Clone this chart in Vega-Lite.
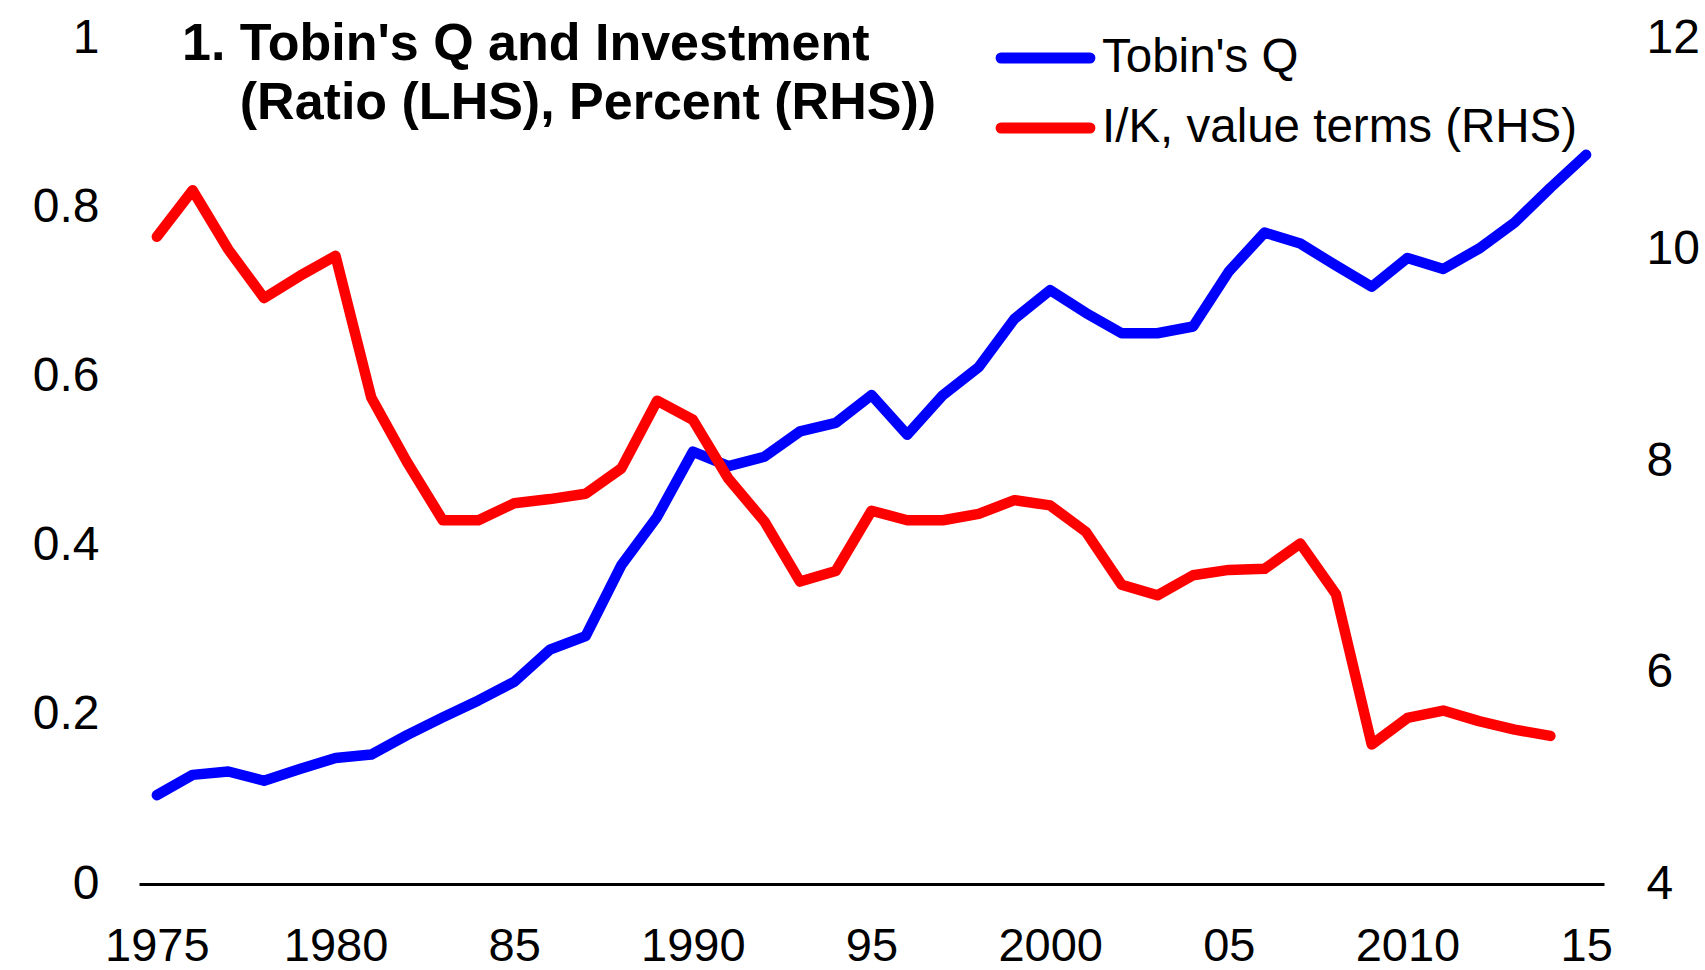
{
  "$schema": "https://vega.github.io/schema/vega-lite/v6.json",
  "width": 1465,
  "height": 846,
  "autosize": {"type": "none"},
  "padding": {"left": 139, "top": 38, "right": 101, "bottom": 86},
  "background": "white",
  "config": {"view": {"stroke": null}, "font": "Liberation Sans"},
  "title": {
    "text": ["1. Tobin's Q and Investment", "\u200b\u00a0\u00a0\u00a0\u00a0(Ratio (LHS), Percent (RHS))"],
    "anchor": "start",
    "frame": "group",
    "font": "Liberation Sans",
    "fontSize": 52,
    "fontWeight": "bold",
    "color": "black",
    "lineHeight": 59,
    "baseline": "alphabetic",
    "offset": 0,
    "dx": 43,
    "dy": 157
  },
  "data": {
    "values": [
      {"year": 1975, "series": "Tobin's Q", "value": 0.105},
      {"year": 1976, "series": "Tobin's Q", "value": 0.129},
      {"year": 1977, "series": "Tobin's Q", "value": 0.133},
      {"year": 1978, "series": "Tobin's Q", "value": 0.122},
      {"year": 1979, "series": "Tobin's Q", "value": 0.136},
      {"year": 1980, "series": "Tobin's Q", "value": 0.149},
      {"year": 1981, "series": "Tobin's Q", "value": 0.153},
      {"year": 1982, "series": "Tobin's Q", "value": 0.176},
      {"year": 1983, "series": "Tobin's Q", "value": 0.197},
      {"year": 1984, "series": "Tobin's Q", "value": 0.217},
      {"year": 1985, "series": "Tobin's Q", "value": 0.239},
      {"year": 1986, "series": "Tobin's Q", "value": 0.277},
      {"year": 1987, "series": "Tobin's Q", "value": 0.293},
      {"year": 1988, "series": "Tobin's Q", "value": 0.377},
      {"year": 1989, "series": "Tobin's Q", "value": 0.434},
      {"year": 1990, "series": "Tobin's Q", "value": 0.511},
      {"year": 1991, "series": "Tobin's Q", "value": 0.494},
      {"year": 1992, "series": "Tobin's Q", "value": 0.505},
      {"year": 1993, "series": "Tobin's Q", "value": 0.535},
      {"year": 1994, "series": "Tobin's Q", "value": 0.545},
      {"year": 1995, "series": "Tobin's Q", "value": 0.578},
      {"year": 1996, "series": "Tobin's Q", "value": 0.531},
      {"year": 1997, "series": "Tobin's Q", "value": 0.578},
      {"year": 1998, "series": "Tobin's Q", "value": 0.611},
      {"year": 1999, "series": "Tobin's Q", "value": 0.668},
      {"year": 2000, "series": "Tobin's Q", "value": 0.702},
      {"year": 2001, "series": "Tobin's Q", "value": 0.675},
      {"year": 2002, "series": "Tobin's Q", "value": 0.651},
      {"year": 2003, "series": "Tobin's Q", "value": 0.651},
      {"year": 2004, "series": "Tobin's Q", "value": 0.659},
      {"year": 2005, "series": "Tobin's Q", "value": 0.724},
      {"year": 2006, "series": "Tobin's Q", "value": 0.770},
      {"year": 2007, "series": "Tobin's Q", "value": 0.757},
      {"year": 2008, "series": "Tobin's Q", "value": 0.731},
      {"year": 2009, "series": "Tobin's Q", "value": 0.706},
      {"year": 2010, "series": "Tobin's Q", "value": 0.740},
      {"year": 2011, "series": "Tobin's Q", "value": 0.727},
      {"year": 2012, "series": "Tobin's Q", "value": 0.751},
      {"year": 2013, "series": "Tobin's Q", "value": 0.782},
      {"year": 2014, "series": "Tobin's Q", "value": 0.823},
      {"year": 2015, "series": "Tobin's Q", "value": 0.862},
      {"year": 1975, "series": "I/K, value terms (RHS)", "value": 10.12},
      {"year": 1976, "series": "I/K, value terms (RHS)", "value": 10.56},
      {"year": 1977, "series": "I/K, value terms (RHS)", "value": 10.0},
      {"year": 1978, "series": "I/K, value terms (RHS)", "value": 9.54},
      {"year": 1979, "series": "I/K, value terms (RHS)", "value": 9.75},
      {"year": 1980, "series": "I/K, value terms (RHS)", "value": 9.94},
      {"year": 1981, "series": "I/K, value terms (RHS)", "value": 8.6},
      {"year": 1982, "series": "I/K, value terms (RHS)", "value": 7.99},
      {"year": 1983, "series": "I/K, value terms (RHS)", "value": 7.44},
      {"year": 1984, "series": "I/K, value terms (RHS)", "value": 7.44},
      {"year": 1985, "series": "I/K, value terms (RHS)", "value": 7.6},
      {"year": 1986, "series": "I/K, value terms (RHS)", "value": 7.64},
      {"year": 1987, "series": "I/K, value terms (RHS)", "value": 7.69},
      {"year": 1988, "series": "I/K, value terms (RHS)", "value": 7.93},
      {"year": 1989, "series": "I/K, value terms (RHS)", "value": 8.57},
      {"year": 1990, "series": "I/K, value terms (RHS)", "value": 8.39},
      {"year": 1991, "series": "I/K, value terms (RHS)", "value": 7.83},
      {"year": 1992, "series": "I/K, value terms (RHS)", "value": 7.43},
      {"year": 1993, "series": "I/K, value terms (RHS)", "value": 6.86},
      {"year": 1994, "series": "I/K, value terms (RHS)", "value": 6.96},
      {"year": 1995, "series": "I/K, value terms (RHS)", "value": 7.53},
      {"year": 1996, "series": "I/K, value terms (RHS)", "value": 7.44},
      {"year": 1997, "series": "I/K, value terms (RHS)", "value": 7.44},
      {"year": 1998, "series": "I/K, value terms (RHS)", "value": 7.5},
      {"year": 1999, "series": "I/K, value terms (RHS)", "value": 7.63},
      {"year": 2000, "series": "I/K, value terms (RHS)", "value": 7.58},
      {"year": 2001, "series": "I/K, value terms (RHS)", "value": 7.33},
      {"year": 2002, "series": "I/K, value terms (RHS)", "value": 6.83},
      {"year": 2003, "series": "I/K, value terms (RHS)", "value": 6.73},
      {"year": 2004, "series": "I/K, value terms (RHS)", "value": 6.92},
      {"year": 2005, "series": "I/K, value terms (RHS)", "value": 6.97},
      {"year": 2006, "series": "I/K, value terms (RHS)", "value": 6.98},
      {"year": 2007, "series": "I/K, value terms (RHS)", "value": 7.22},
      {"year": 2008, "series": "I/K, value terms (RHS)", "value": 6.74},
      {"year": 2009, "series": "I/K, value terms (RHS)", "value": 5.32},
      {"year": 2010, "series": "I/K, value terms (RHS)", "value": 5.57},
      {"year": 2011, "series": "I/K, value terms (RHS)", "value": 5.64},
      {"year": 2012, "series": "I/K, value terms (RHS)", "value": 5.54},
      {"year": 2013, "series": "I/K, value terms (RHS)", "value": 5.46},
      {"year": 2014, "series": "I/K, value terms (RHS)", "value": 5.4}
    ]
  },
  "layer": [
    {
      "transform": [{"filter": "datum.series !== 'I/K, value terms (RHS)'"}],
      "mark": {"type": "line", "strokeWidth": 10.5, "strokeCap": "round", "strokeJoin": "round"},
      "encoding": {
        "x": {
          "field": "year", "type": "quantitative",
          "scale": {"domain": [1974.5, 2015.5], "nice": false, "zero": false},
          "axis": {
            "values": [1975, 1980, 1985, 1990, 1995, 2000, 2005, 2010, 2015],
            "labelExpr": "(datum.value % 10 === 5 && datum.value !== 1975) ? substring(toString(datum.value), 2, 4) : toString(datum.value)",
            "title": null, "grid": false, "ticks": false,
            "domain": true, "domainColor": "black", "domainWidth": 3,
            "labelFont": "Liberation Sans", "labelFontSize": 47, "labelColor": "black",
            "labelPadding": 39, "labelFlush": false, "labelOverlap": false
          }
        },
        "y": {
          "field": "value", "type": "quantitative",
          "scale": {"domain": [0, 1], "nice": false},
          "axis": {
            "orient": "left", "values": [0, 0.2, 0.4, 0.6, 0.8, 1], "format": "~g",
            "title": null, "grid": false, "ticks": false, "domain": false,
            "labelFont": "Liberation Sans", "labelFontSize": 48, "labelColor": "black",
            "labelPadding": 40, "labelOverlap": false
          }
        },
        "color": {
          "field": "series", "type": "nominal",
          "scale": {"domain": ["Tobin's Q", "I/K, value terms (RHS)"], "range": ["#0000ff", "#ff0000"]},
          "legend": {
            "title": null, "orient": "none", "legendX": 877, "legendY": -9.5,
            "symbolType": "M-1.87,0H1.87", "symbolSize": 2256, "symbolStrokeWidth": 11,
            "labelFont": "Liberation Sans", "labelFontSize": 47.5, "labelColor": "black",
            "labelOffset": 27, "rowPadding": 17, "padding": 0, "labelLimit": 1000,
            "encode": {"symbols": {"update": {"strokeCap": {"value": "round"}, "fill": {"value": "transparent"}}}}
          }
        }
      }
    },
    {
      "transform": [{"filter": "datum.series === 'I/K, value terms (RHS)'"}],
      "mark": {"type": "line", "strokeWidth": 10.5, "strokeCap": "round", "strokeJoin": "round"},
      "encoding": {
        "x": {
          "field": "year", "type": "quantitative",
          "scale": {"domain": [1974.5, 2015.5], "nice": false, "zero": false},
          "axis": {
            "values": [1975, 1980, 1985, 1990, 1995, 2000, 2005, 2010, 2015],
            "labelExpr": "(datum.value % 10 === 5 && datum.value !== 1975) ? substring(toString(datum.value), 2, 4) : toString(datum.value)",
            "title": null, "grid": false, "ticks": false,
            "domain": true, "domainColor": "black", "domainWidth": 3,
            "labelFont": "Liberation Sans", "labelFontSize": 47, "labelColor": "black",
            "labelPadding": 39, "labelFlush": false, "labelOverlap": false
          }
        },
        "y": {
          "field": "value", "type": "quantitative",
          "scale": {"domain": [4, 12], "nice": false, "zero": false},
          "axis": {
            "orient": "right", "values": [4, 6, 8, 10, 12],
            "title": null, "grid": false, "ticks": false, "domain": false,
            "labelFont": "Liberation Sans", "labelFontSize": 48, "labelColor": "black",
            "labelPadding": 42, "labelOverlap": false
          }
        },
        "color": {
          "field": "series", "type": "nominal",
          "scale": {"domain": ["Tobin's Q", "I/K, value terms (RHS)"], "range": ["#0000ff", "#ff0000"]}
        }
      }
    }
  ],
  "resolve": {"scale": {"y": "independent"}}
}
